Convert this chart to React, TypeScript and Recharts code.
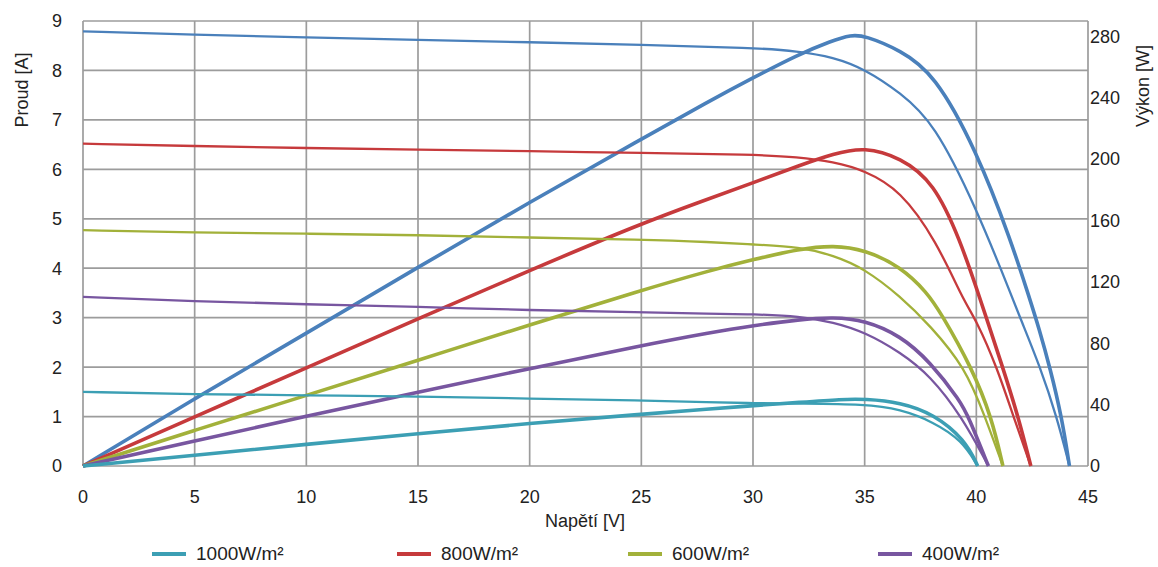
import { LineChart, Line, XAxis, YAxis, CartesianGrid } from "recharts";

const voltageTicks = [0, 5, 10, 15, 20, 25, 30, 35, 40, 45];
const currentTicks = [0, 1, 2, 3, 4, 5, 6, 7, 8, 9];
const powerTicks = [0, 40, 80, 120, 160, 200, 240, 280];

// blue (top) curves
const blueIVolts = [0, 5, 10, 15, 20, 25, 30, 32, 33.6, 35, 36.6, 38.1, 40, 41.66, 41.96, 42.86, 43.6, 44.17];
const blueCurrent = [8.79, 8.72, 8.67, 8.62, 8.57, 8.52, 8.46, 8.39, 8.27, 8.03, 7.55, 6.95, 5.22, 3.35, 3.0, 2.0, 1.0, 0];
const bluePVolts = [0, 5, 10, 15, 20, 25, 28, 30, 32, 33.5, 34.4, 35, 36.6, 38.1, 40, 41.55, 42.41, 42.8, 43.3, 43.83, 44.17];
const bluePower = [0, 44, 86.5, 129.5, 172, 213, 237.5, 253, 268, 277, 281, 280.5, 271, 256, 206, 147, 108, 90, 64, 31.5, 0];

// red curves
const redIVolts = [0, 5, 10, 15, 20, 25, 30, 32, 33.6, 35, 36.6, 38.2, 39.42, 40, 40.92, 41.66, 42.44];
const redCurrent = [6.52, 6.47, 6.43, 6.4, 6.37, 6.33, 6.3, 6.25, 6.15, 5.98, 5.58, 4.56, 3.35, 2.95, 2.0, 1.0, 0];
const redPVolts = [0, 5, 10, 15, 20, 25, 27.6, 30, 32.1, 33.6, 35, 36.6, 38.1, 39.28, 40.1, 41.19, 41.89, 42.44];
const redPower = [0, 32, 64, 96, 127.5, 158, 172, 184.5, 196, 203.5, 208, 201, 185, 147, 112, 64, 31.5, 0];

// green curves
const greenIVolts = [0, 5, 10, 15, 20, 25, 28.1, 30, 32.1, 33.6, 35, 36.6, 37.93, 39.49, 40.39, 41.19];
const greenCurrent = [4.77, 4.72, 4.7, 4.67, 4.62, 4.58, 4.53, 4.48, 4.43, 4.26, 3.99, 3.43, 2.84, 2.0, 1.0, 0];
const greenPVolts = [0, 5, 10, 15, 20, 25, 28.1, 30, 32.1, 33.6, 35, 36.6, 37.8, 38.4, 39.8, 40.69, 41.19];
const greenPower = [0, 23.3, 46, 68.9, 92, 114.5, 127.5, 134.5, 141.5, 143.8, 141, 130, 113, 100, 64, 31.5, 0];

// purple curves
const purpleIVolts = [0, 5, 10, 15, 20, 25, 28.1, 30, 32.1, 33.6, 35, 36.6, 37.93, 39.35, 40.54];
const purpleCurrent = [3.42, 3.33, 3.27, 3.22, 3.15, 3.11, 3.08, 3.07, 3.03, 2.91, 2.71, 2.3, 1.83, 1.0, 0];
const purplePVolts = [0, 5, 10, 15, 20, 25, 28.1, 30, 32.1, 33.6, 35, 36.6, 37.93, 39.3, 39.65, 40.54];
const purplePower = [0, 16.3, 32.4, 48.2, 63.5, 78.5, 87, 91.5, 95.5, 97, 95, 85, 68, 42, 32, 0];

// teal (bottom) curves
const tealIVolts = [0, 5, 10, 15, 20, 25, 28.1, 30, 32.1, 35, 36.6, 38.08, 39.35, 40.06];
const tealCurrent = [1.5, 1.45, 1.43, 1.41, 1.36, 1.33, 1.29, 1.27, 1.26, 1.25, 1.15, 0.89, 0.52, 0];
const tealPVolts = [0, 5, 10, 15, 20, 25, 28.1, 30, 32.1, 34, 35, 36.6, 38.08, 39.5, 40.06];
const tealPower = [0, 7, 14.1, 21.1, 27.8, 33.7, 37.2, 39.3, 41.5, 43.5, 43.7, 41.5, 34, 17, 0];

const legendLabels = ["1000W/m²", "800W/m²", "600W/m²", "400W/m²"];

const BLUE = "#4a80bb";
const RED = "#c63a3c";
const GREEN = "#a2b13a";
const PURPLE = "#7856a0";
const TEAL = "#3c9fb4";

const legendColors = [TEAL, RED, GREEN, PURPLE];
const legendLeft = [152, 397, 628, 878];

const toPoints = (volts: number[], vals: number[]) =>
  volts.map((v, i) => ({ v, y: vals[i] }));

const curves = [
  { key: "blueP", color: BLUE, axis: "p", width: 3.6, data: toPoints(bluePVolts, bluePower) },
  { key: "redP", color: RED, axis: "p", width: 3.6, data: toPoints(redPVolts, redPower) },
  { key: "greenP", color: GREEN, axis: "p", width: 3.6, data: toPoints(greenPVolts, greenPower) },
  { key: "purpleP", color: PURPLE, axis: "p", width: 3.6, data: toPoints(purplePVolts, purplePower) },
  { key: "tealP", color: TEAL, axis: "p", width: 3.6, data: toPoints(tealPVolts, tealPower) },
  { key: "blueI", color: BLUE, axis: "i", width: 2.3, data: toPoints(blueIVolts, blueCurrent) },
  { key: "redI", color: RED, axis: "i", width: 2.3, data: toPoints(redIVolts, redCurrent) },
  { key: "greenI", color: GREEN, axis: "i", width: 2.3, data: toPoints(greenIVolts, greenCurrent) },
  { key: "purpleI", color: PURPLE, axis: "i", width: 2.3, data: toPoints(purpleIVolts, purpleCurrent) },
  { key: "tealI", color: TEAL, axis: "i", width: 2.3, data: toPoints(tealIVolts, tealCurrent) },
];

const FONT = "Arial, 'Liberation Sans', sans-serif";
const tickStyle = { fontSize: 18, fill: "#222", fontFamily: FONT };

export default function App() {
  return (
    <div style={{ position: "absolute", left: 0, top: 0, width: 1158, height: 567, background: "#fff", fontFamily: FONT }}>
      <LineChart width={1158} height={567} margin={{ top: 21, right: 0, bottom: 61, left: 0 }}>
        <CartesianGrid yAxisId="i" stroke="#9c9c9c" strokeWidth={1.7} />
        <XAxis
          dataKey="v"
          type="number"
          domain={[0, 45]}
          ticks={voltageTicks}
          height={40}
          tickLine={false}
          axisLine={false}
          tickSize={0}
          tickMargin={24}
          tick={tickStyle}
        />
        <YAxis
          yAxisId="i"
          orientation="left"
          domain={[0, 9]}
          ticks={currentTicks}
          width={83}
          tickLine={false}
          axisLine={false}
          tickSize={0}
          tickMargin={21}
          tick={tickStyle}
        />
        <YAxis
          yAxisId="p"
          orientation="right"
          domain={[0, 290]}
          ticks={powerTicks}
          width={70}
          tickLine={false}
          axisLine={false}
          tickSize={0}
          tickMargin={2}
          tick={tickStyle}
        />
        {curves.map((c) => (
          <Line
            key={c.key}
            data={c.data}
            dataKey="y"
            yAxisId={c.axis}
            type="basis"
            stroke={c.color}
            strokeWidth={c.width}
            dot={false}
            activeDot={false}
            isAnimationActive={false}
          />
        ))}
      </LineChart>

      <div style={{ position: "absolute", left: 22, top: 90, transform: "translate(-50%, -50%) rotate(-90deg)", fontSize: 18, color: "#222", whiteSpace: "nowrap" }}>
        Proud [A]
      </div>
      <div style={{ position: "absolute", left: 1143, top: 86, transform: "translate(-50%, -50%) rotate(-90deg)", fontSize: 18, color: "#222", whiteSpace: "nowrap" }}>
        Výkon [W]
      </div>
      <div style={{ position: "absolute", left: 585, top: 521, transform: "translate(-50%, -50%)", fontSize: 18, color: "#222", whiteSpace: "nowrap" }}>
        Napětí [V]
      </div>

      {legendLabels.map((label, i) => (
        <div key={label} style={{ position: "absolute", left: legendLeft[i], top: 543, height: 22, display: "flex", alignItems: "center", gap: 10, fontSize: 19, color: "#222", whiteSpace: "nowrap" }}>
          <div style={{ width: 34, height: 4, background: legendColors[i] }} />
          <span>{label}</span>
        </div>
      ))}
    </div>
  );
}
